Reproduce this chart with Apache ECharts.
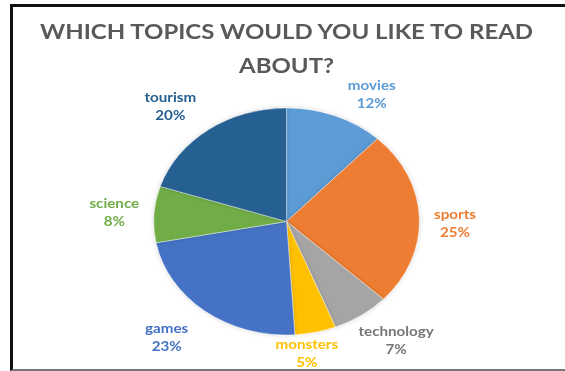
<!DOCTYPE html>
<html>
<head>
<meta charset="utf-8">
<script src="https://cdn.jsdelivr.net/npm/echarts@6/dist/echarts.min.js"></script>
<style>
  html, body { margin: 0; padding: 0; background: #fff; overflow: hidden; }
  #wrap { position: relative; width: 565px; height: 371px; overflow: hidden; background: #fff; }
  /* the chart is drawn narrow and widened, so the pie becomes an ellipse */
  #chart { position: absolute; left: 3.5px; top: 0; width: 483px; height: 371px;
           transform: scaleX(1.17); transform-origin: 0 0; }
  #frame { position: absolute; left: 10px; top: 4px; width: 600px; height: 362px;
           border-left: 3px solid #111; border-top: 3px solid #111; border-bottom: 2px solid #777;
           pointer-events: none; }
</style>
</head>
<body>
<div id="wrap">
  <div id="chart"></div>
  <div id="frame"></div>
</div>
<script>
const titleText = 'WHICH TOPICS WOULD YOU LIKE TO READ\nABOUT?';
const categories = ['movies', 'sports', 'technology', 'monsters', 'games', 'science', 'tourism'];
const shares = [12, 25, 7, 5, 23, 8, 20];
const sliceColors = ['#5B9BD5', '#ED7D31', '#A5A5A5', '#FFC000', '#4472C4', '#70AD47', '#255E91'];
const labelColors = ['#5B9BD5', '#ED7D31', '#767676', '#FFC000', '#4472C4', '#70AD47', '#255E91'];
// small "best fit" nudges of each label away from its default outside spot
const labelNudge = [[20, 5.5], [0.5, 6], [13, 0], [-14, -9], [-14.5, 2.5], [-4, -0.5], [-15, 0.5]];

const pieData = categories.map((name, i) => ({
  name: name,
  value: shares[i],
  itemStyle: { color: sliceColors[i] },
  label: { color: labelColors[i] }
}));

const chart = echarts.init(document.getElementById('chart'), null, { renderer: 'svg' });
chart.setOption({
  animation: false,
  backgroundColor: 'transparent',
  title: {
    text: titleText,
    left: 'center',
    top: 9,
    textStyle: {
      fontFamily: 'Lato',
      fontWeight: 'bold',
      fontSize: 20.5,
      lineHeight: 34,
      color: '#595959'
    }
  },
  series: [{
    type: 'pie',
    center: ['50%', 221.5],
    radius: 113.5,
    startAngle: 90,
    clockwise: true,
    avoidLabelOverlap: false,
    data: pieData,
    itemStyle: {
      borderColor: 'rgba(255,255,255,0.6)',
      borderWidth: 0.6,
      shadowBlur: 4,
      shadowColor: 'rgba(0,0,0,0.18)'
    },
    label: {
      show: true,
      position: 'outside',
      formatter: '{b}\n{c}%',
      fontFamily: 'Lato',
      fontWeight: 'bold',
      fontSize: 13,
      lineHeight: 18,
      distanceToLabelLine: 0
    },
    labelLine: { show: false, length: 30, length2: 0 },
    labelLayout: function (params) {
      const n = labelNudge[params.dataIndex];
      return { align: 'center', dx: n[0], dy: n[1] };
    },
    emphasis: { disabled: true }
  }]
});
</script>
</body>
</html>
